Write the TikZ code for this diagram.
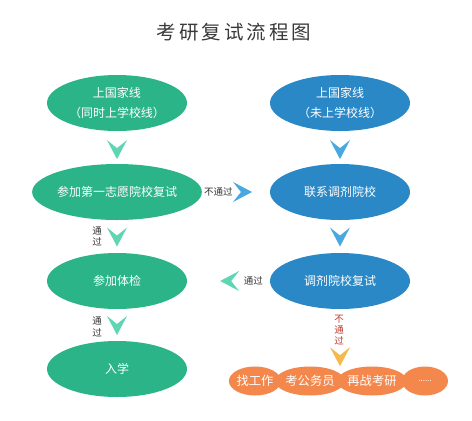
\documentclass[tikz,border=0pt]{standalone}
\usepackage{fontspec}
\setmainfont{Noto Sans CJK SC}
\usetikzlibrary{shapes.geometric,calc}
\definecolor{cgreen}{HTML}{2BB487}
\definecolor{cblue}{HTML}{2A88C6}
\definecolor{corange}{HTML}{F4874B}
\definecolor{chgreen}{HTML}{5ED6B4}
\definecolor{chblue}{HTML}{4AA8E0}
\definecolor{chgold}{HTML}{F6B94D}
\definecolor{ctext}{HTML}{333333}
\definecolor{cred}{HTML}{C0392B}
\definecolor{ctitle}{HTML}{3A3A3A}
\newcommand{\chevron}[3]{%
  \fill[#3, shift={(#1)}, rotate=#2] (10,0) -- (-9,10) -- (-1,0) -- (-9,-10) -- cycle;}
\tikzset{
  oval/.style={ellipse, minimum width=140pt, minimum height=56pt, inner sep=0pt,
    text=white, align=center, font=\fontsize{12}{20}\selectfont},
  gn/.style={oval, fill=cgreen},
  bl/.style={oval, fill=cblue},
  og/.style={ellipse, fill=corange, text=white, minimum height=29pt, inner sep=0pt,
    font=\fontsize{12.3}{14}\selectfont},
  lbl/.style={text=ctext, inner sep=0pt, align=center, font=\fontsize{9.5}{11.5}\selectfont},
}
\begin{document}
\begin{tikzpicture}[x=1pt, y=-1pt]
\fill[white] (0,0) rectangle (472,421);
\useasboundingbox (0,0) rectangle (472,421);
\node[text=ctitle, font=\fontsize{19.5}{22}\selectfont] (title) at (234,32)
  {考\hspace{3pt}研\hspace{3pt}复\hspace{3pt}试\hspace{3pt}流\hspace{3pt}程\hspace{3pt}图};
% left column
\node[gn] (e1) at (117,103) {上国家线\\（同时上学校线）};
\node[gn] (e2) at (117,192) {参加第一志愿院校复试};
\node[gn] (e3) at (117,281) {参加体检};
\node[gn] (e6) at (117,369) {入学};
% right column
\node[bl] (r1) at (340,103) {上国家线\\（未上学校线）};
\node[bl] (r2) at (340,192) {联系调剂院校};
\node[bl] (r3) at (340,281) {调剂院校复试};
% bottom options
\node[og, minimum width=64pt] (o2) at (310,381) {考公务员};
\node[og, minimum width=60pt] (o3) at (372,381) {再战考研};
\node[og, minimum width=46pt] (o4) at (425,381) {\fontsize{8}{9}\selectfont ......};
\node[og, minimum width=46pt] (o1) at (255,381) {找工作};
% connectors (chevrons)
\coordinate (c1) at ($(e1.south)!0.55!(e2.north)$);
\chevron{c1}{-90}{chgreen}
\coordinate (c2) at ($(e2.south)!0.5!(e3.north)$);
\chevron{c2}{-90}{chgreen}
\node[lbl, anchor=east] (l2) at ($(c2)+(-15,0)$) {通\\过};
\coordinate (c3) at ($(e3.south)!0.5!(e6.north)$);
\chevron{c3}{-90}{chgreen}
\node[lbl, anchor=east] (l3) at ($(c3)+(-15,2)$) {通\\过};
\coordinate (c4) at ($(r1.south)!0.55!(r2.north)$);
\chevron{c4}{-90}{chblue}
\coordinate (c5) at ($(r2.south)!0.5!(r3.north)$);
\chevron{c5}{-90}{chblue}
\coordinate (c6) at ($(e2.east)!0.59!(r2.west)$);
\chevron{c6}{0}{chblue}
\node[lbl] (l6) at ($(e2.east)!0.24!(r2.west)$) {不通过};
\coordinate (c7) at ($(e3.east)!0.52!(r3.west)$);
\chevron{c7}{180}{chgreen}
\node[lbl] (l7) at ($(e3.east)!0.8!(r3.west)$) {通过};
\coordinate (c8) at ($(r3.south)+(0,47)$);
\chevron{c8}{-90}{chgold}
\node[lbl, text=cred, font=\fontsize{9.5}{11}\selectfont] (l8) at ($(r3.south)+(-1,21)$) {不\\通\\过};
\end{tikzpicture}
\end{document}
